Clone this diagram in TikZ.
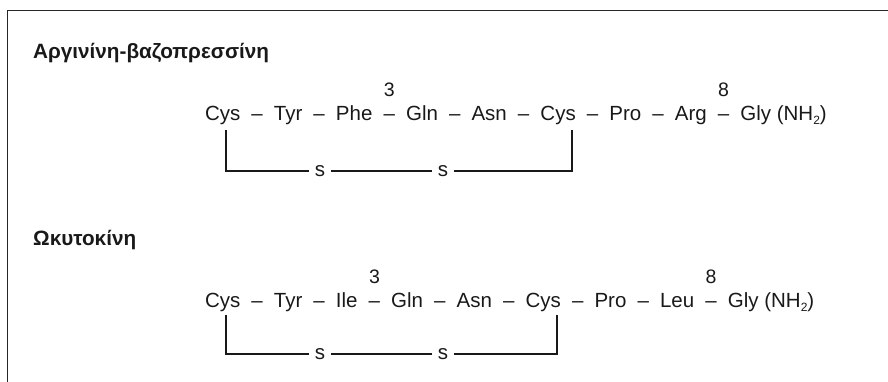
\documentclass[tikz,border=0pt]{standalone}
\usepackage{fontspec}
\setmainfont{Liberation Sans}
\usetikzlibrary{calc}
\newcommand\gapw{11.1pt}
\newcommand\subtwo{\raisebox{-4pt}{\fontsize{12}{12}\selectfont 2}}
\tikzset{
  res/.style={inner sep=0pt, outer sep=0pt, anchor=base west, font=\fontsize{20.5}{24}\selectfont, text=black!90},
  numlab/.style={inner sep=0pt, anchor=base, font=\fontsize{19.5}{22}\selectfont, text=black!90},
  title/.style={inner sep=0pt, anchor=base west, font=\bfseries\fontsize{20.7}{24}\selectfont, text=black!90},
  sulf/.style={inner xsep=5.5pt, inner ysep=0pt, anchor=center, font=\fontsize{20.5}{24}\selectfont, text=black!90},
  bond/.style={line width=1.7pt, draw=black!90},
  frame/.style={line width=1.8pt, draw=black!85}
}
\begin{document}
\begin{tikzpicture}[x=1pt,y=-1pt]
\useasboundingbox (0,0) rectangle (888,382);
\draw[frame] (7.5,382) -- (7.5,10.5) -- (888,10.5);

% ---------- Row 1 ----------
\node[title] (t1) at (33,59) {Αργινίνη-βαζοπρεσσίνη};
\node[res] (a1) at (205,121) {Cys};
\node[res] (ad1) at ([xshift=\gapw]a1.base east) {–};
\node[res] (a2) at ([xshift=\gapw]ad1.base east) {Tyr};
\node[res] (ad2) at ([xshift=\gapw]a2.base east) {–};
\node[res] (a3) at ([xshift=\gapw]ad2.base east) {Phe};
\node[res] (ad3) at ([xshift=\gapw]a3.base east) {–};
\node[res] (a4) at ([xshift=\gapw]ad3.base east) {Gln};
\node[res] (ad4) at ([xshift=\gapw]a4.base east) {–};
\node[res] (a5) at ([xshift=\gapw]ad4.base east) {Asn};
\node[res] (ad5) at ([xshift=\gapw]a5.base east) {–};
\node[res] (a6) at ([xshift=\gapw]ad5.base east) {Cys};
\node[res] (ad6) at ([xshift=\gapw]a6.base east) {–};
\node[res] (a7) at ([xshift=\gapw]ad6.base east) {Pro};
\node[res] (ad7) at ([xshift=\gapw]a7.base east) {–};
\node[res] (a8) at ([xshift=\gapw]ad7.base east) {Arg};
\node[res] (ad8) at ([xshift=\gapw]a8.base east) {–};
\node[res] (a9) at ([xshift=\gapw]ad8.base east) {Gly (NH\subtwo)};
\node[numlab] (an3) at ([yshift=24pt]ad3.base) {3};
\node[numlab] (an8) at ([yshift=24pt]ad8.base) {8};
\coordinate (aL) at ([xshift=21pt,yshift=-9pt]a1.base west);
\coordinate (aR) at ([xshift=-4pt,yshift=-9pt]a6.base east);
\node[sulf] (as1) at (320,171) {s};
\node[sulf] (as2) at (443,171) {s};
\draw[bond] (aL) |- (as1.west);
\draw[bond] (as1.east) -- (as2.west);
\draw[bond] (as2.east) -| (aR);

% ---------- Row 2 ----------
\node[title] (t2) at (33,245) {Ωκυτοκίνη};
\node[res] (b1) at (205,307) {Cys};
\node[res] (bd1) at ([xshift=\gapw]b1.base east) {–};
\node[res] (b2) at ([xshift=\gapw]bd1.base east) {Tyr};
\node[res] (bd2) at ([xshift=\gapw]b2.base east) {–};
\node[res] (b3) at ([xshift=\gapw]bd2.base east) {Ile};
\node[res] (bd3) at ([xshift=\gapw]b3.base east) {–};
\node[res] (b4) at ([xshift=\gapw]bd3.base east) {Gln};
\node[res] (bd4) at ([xshift=\gapw]b4.base east) {–};
\node[res] (b5) at ([xshift=\gapw]bd4.base east) {Asn};
\node[res] (bd5) at ([xshift=\gapw]b5.base east) {–};
\node[res] (b6) at ([xshift=\gapw]bd5.base east) {Cys};
\node[res] (bd6) at ([xshift=\gapw]b6.base east) {–};
\node[res] (b7) at ([xshift=\gapw]bd6.base east) {Pro};
\node[res] (bd7) at ([xshift=\gapw]b7.base east) {–};
\node[res] (b8) at ([xshift=\gapw]bd7.base east) {Leu};
\node[res] (bd8) at ([xshift=\gapw]b8.base east) {–};
\node[res] (b9) at ([xshift=\gapw]bd8.base east) {Gly (NH\subtwo)};
\node[numlab] (bn3) at ([yshift=24pt]bd3.base) {3};
\node[numlab] (bn8) at ([yshift=24pt]bd8.base) {8};
\coordinate (bL) at ([xshift=21pt,yshift=-8pt]b1.base west);
\coordinate (bR) at ([xshift=-4pt,yshift=-8pt]b6.base east);
\node[sulf] (bs1) at (320,354) {s};
\node[sulf] (bs2) at (443,354) {s};
\draw[bond] (bL) |- (bs1.west);
\draw[bond] (bs1.east) -- (bs2.west);
\draw[bond] (bs2.east) -| (bR);
\end{tikzpicture}
\end{document}
